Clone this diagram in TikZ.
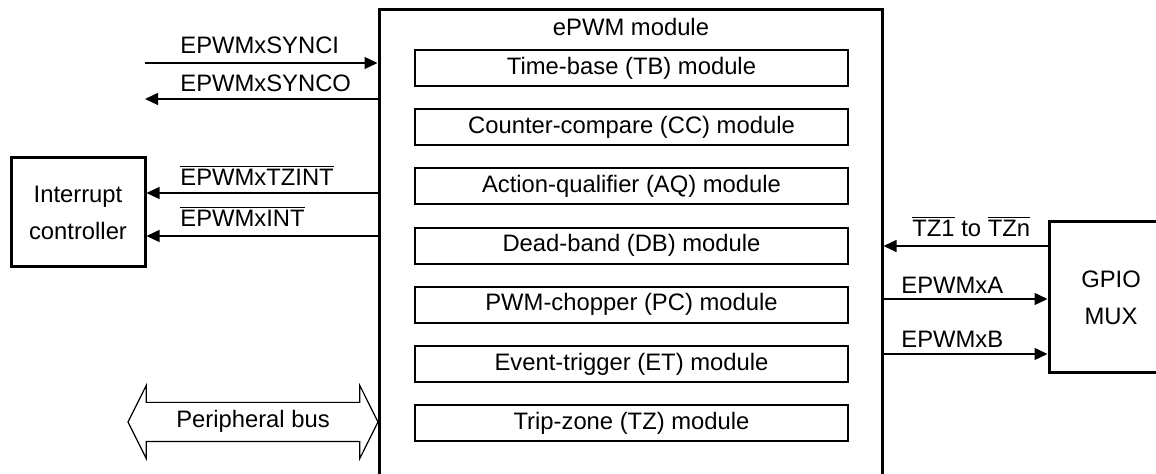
\documentclass[tikz,border=0pt]{standalone}
\usepackage{fontspec}
\setmainfont{Liberation Sans}
\usetikzlibrary{positioning,arrows.meta,shapes.arrows}

\begin{document}
\begin{tikzpicture}[x=0.5pt,y=-0.5pt,node distance=29.6pt,on grid,
   font=\fontsize{11.9}{18.5}\selectfont,
   unit/.style={draw,line width=1pt,minimum width=216.5pt,minimum height=18pt,inner sep=0pt},
   block/.style={draw,line width=1.5pt,align=center,inner sep=0pt},
   lbl/.style={inner sep=0pt,anchor=base west},
   sig/.style={line width=0.65pt,-{Triangle[length=6.5pt,width=6pt]}}]
   \useasboundingbox (0,0) rectangle (1156,474);
   \clip (0,0) rectangle (1156,474);
   % ePWM module and its sub-modules
   \node[block,minimum width=251.5pt,minimum height=245pt] (epwm) at (630.5,255) {};
   \node[inner sep=0pt,anchor=base] (title) at (631,36) {ePWM module};
   \node[unit] (tb) at (631.5,68) {Time-base (TB) module};
   \node[unit] (cc) [below=of tb] {Counter-compare (CC) module};
   \node[unit] (aq) [below=of cc] {Action-qualifier (AQ) module};
   \node[unit] (db) [below=of aq] {Dead-band (DB) module};
   \node[unit] (pc) [below=of db] {PWM-chopper (PC) module};
   \node[unit] (et) [below=of pc] {Event-trigger (ET) module};
   \node[unit] (tz) [below=of et] {Trip-zone (TZ) module};
   % outside blocks
   \node[block,minimum width=67pt,minimum height=54.5pt] (intc) at (78,212.5) {Interrupt\\controller};
   \node[block,minimum width=62pt,minimum height=75.5pt] (gpio) at (1111,297.5) {GPIO\\MUX};
   \node[draw,line width=0.6pt,double arrow,double arrow head extend=8.5pt,
         double arrow tip angle=127,minimum height=125pt,minimum width=36pt,
         inner xsep=0pt,inner ysep=4pt,text height=8.5pt,text depth=2.5pt] (bus) at (253,422) {Peripheral bus};
   % sync signals
   \coordinate (synci) at (145,63);
   \coordinate (synco) at (145,99);
   \draw[sig] (synci) -- (synci -| epwm.west);
   \draw[sig] (synco -| epwm.west) -- (synco);
   \node[lbl] (lsynci) at (180,54) {EPWMxSYNCI};
   \node[lbl] (lsynco) at (180,92) {EPWMxSYNCO};
   % interrupts
   \draw[sig] (epwm.west |- 0,193) -- (intc.east |- 0,193);
   \draw[sig] (epwm.west |- 0,236) -- (intc.east |- 0,236);
   \node[lbl] (ltzint) at (180,186) {$\overline{\mbox{EPWMxTZINT}}$};
   \node[lbl] (lint) at (180,227) {$\overline{\mbox{EPWMxINT}}$};
   % gpio side
   \draw[sig] (gpio.west |- 0,246) -- (epwm.east |- 0,246);
   \draw[sig] (epwm.east |- 0,299) -- (gpio.west |- 0,299);
   \draw[sig] (epwm.east |- 0,354) -- (gpio.west |- 0,354);
   \node[lbl] (ltz) at (912,237) {$\overline{\mbox{TZ1}}$ to $\overline{\mbox{TZn}}$};
   \node[lbl] (la) at (901,294) {EPWMxA};
   \node[lbl] (lb) at (901,348) {EPWMxB};
\end{tikzpicture}
\end{document}
